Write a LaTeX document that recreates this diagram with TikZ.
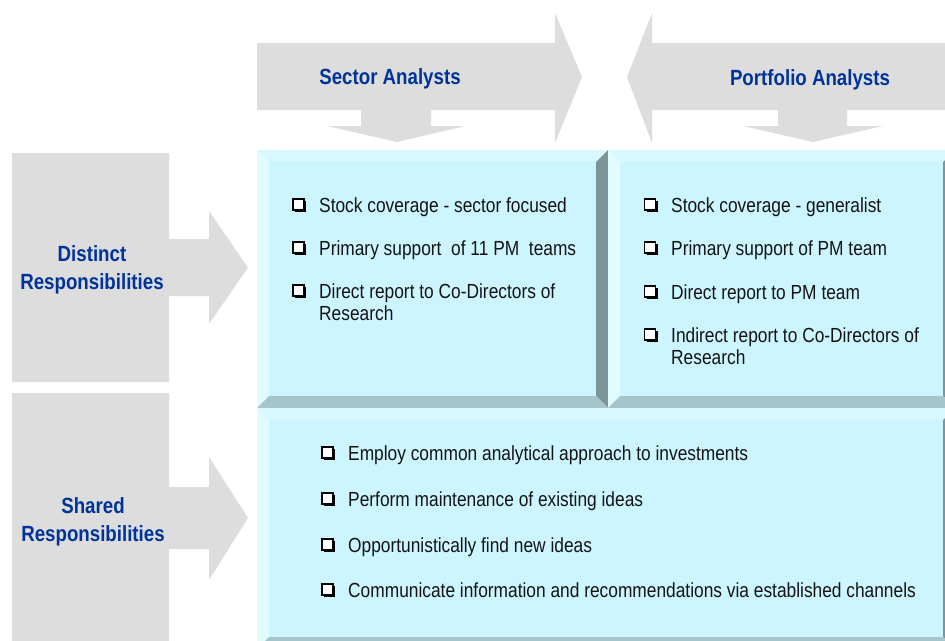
\documentclass[tikz,border=0pt]{standalone}
\usepackage{fontspec}
\setmainfont{Liberation Sans}[FakeStretch=0.85]
\usetikzlibrary{shadows}
\definecolor{arrowgray}{RGB}{221,221,221}
\definecolor{hblue}{RGB}{0,51,153}
\definecolor{txt}{RGB}{20,20,20}
\definecolor{bevface}{RGB}{204,245,255}
\definecolor{bevtop}{RGB}{216,248,255}
\definecolor{bevleft}{RGB}{226,251,255}
\definecolor{bevright}{RGB}{125,148,152}
\definecolor{bevbottom}{RGB}{164,197,203}
\newcommand\drawbevpanel[4]{%
  \fill[bevface] (#1+12,#2+12) rectangle (#3-12,#4-12);
  \fill[bevtop] (#1,#2) -- (#3,#2) -- (#3-12,#2+12) -- (#1+12,#2+12) -- cycle;
  \fill[bevleft] (#1,#2) -- (#1+12,#2+12) -- (#1+12,#4-12) -- (#1,#4) -- cycle;
  \fill[bevright] (#3,#2) -- (#3,#4) -- (#3-12,#4-12) -- (#3-12,#2+12) -- cycle;
  \fill[bevbottom] (#1,#4) -- (#3,#4) -- (#3-12,#4-12) -- (#1+12,#4-12) -- cycle;
}
\begin{document}
\begin{tikzpicture}[x=1pt,y=-1pt,
  bigarrow/.style={fill=arrowgray},
  hd/.style={anchor=base, inner sep=0pt, text=hblue, font=\fontsize{22}{28}\selectfont\bfseries},
  itm/.style={anchor=base west, inner sep=0pt, text=txt, font=\fontsize{20.4}{22}\selectfont},
  cbox/.style={draw=black, fill=white, line width=1.3pt, minimum size=11pt, inner sep=0pt,
    drop shadow={shadow xshift=2pt, shadow yshift=-2pt, opacity=1, fill=black}}]
\clip (0,0) rectangle (945,640);
\fill[white] (0,0) rectangle (945,640);

% top arrows
\fill[bigarrow] (257,43) -- (555,43) -- (555,13) -- (582,77) -- (555,143) -- (555,110)
  -- (431,110) -- (431,126) -- (465,126) -- (397,142) -- (327,126) -- (361,126)
  -- (361,110) -- (257,110) -- cycle;
\fill[bigarrow] (960,43) -- (652,43) -- (652,13) -- (627,77) -- (652,143) -- (652,110)
  -- (778,110) -- (778,126) -- (743,126) -- (813,142) -- (883,126) -- (847,126)
  -- (847,110) -- (960,110) -- cycle;

% left arrows
\fill[bigarrow] (12,153) -- (169,153) -- (169,239) -- (209,239) -- (209,211) -- (248,267.5)
  -- (209,324) -- (209,296) -- (169,296) -- (169,382) -- (12,382) -- cycle;
\fill[bigarrow] (12,393) -- (169,393) -- (169,487) -- (209,487) -- (209,457) -- (248,518)
  -- (209,580) -- (209,549) -- (169,549) -- (169,650) -- (12,650) -- cycle;

% panels
\drawbevpanel{257}{150}{608}{408}
\drawbevpanel{608}{150}{955}{408}
\drawbevpanel{257}{408}{955}{649}

% headings
\node[hd] (sec) at (390,84) {Sector Analysts};
\node[hd] (port) at (810,85) {Portfolio Analysts};
\node[hd] (dis1) at (92,261) {Distinct};
\node[hd] (dis2) at (92,289) {Responsibilities};
\node[hd] (sh1) at (93,513) {Shared};
\node[hd] (sh2) at (93,541) {Responsibilities};

% left list
\node[cbox] (lb1) at (298.5,204.5) {};
\node[itm] (lt1) at (319,212) {Stock coverage - sector focused};
\node[cbox] (lb2) at (298.5,247.5) {};
\node[itm] (lt2) at (319,255) {Primary support~ of 11 PM~ teams};
\node[cbox] (lb3) at (298.5,290.5) {};
\node[itm] (lt3) at (319,298) {Direct report to Co-Directors of};
\node[itm] (lt3b) at (319,320) {Research};

% right list
\node[cbox] (rb1) at (650,204.5) {};
\node[itm] (rt1) at (671,212) {Stock coverage - generalist};
\node[cbox] (rb2) at (650,247.5) {};
\node[itm] (rt2) at (671,255) {Primary support of PM team};
\node[cbox] (rb3) at (650,291.5) {};
\node[itm] (rt3) at (671,299) {Direct report to PM team};
\node[cbox] (rb4) at (650,334.5) {};
\node[itm] (rt4) at (671,342) {Indirect report to Co-Directors of};
\node[itm] (rt4b) at (671,364) {Research};

% bottom list
\node[cbox] (bb1) at (327.5,452.5) {};
\node[itm] (bt1) at (348,460) {Employ common analytical approach to investments};
\node[cbox] (bb2) at (327.5,498.5) {};
\node[itm] (bt2) at (348,506) {Perform maintenance of existing ideas};
\node[cbox] (bb3) at (327.5,544.5) {};
\node[itm] (bt3) at (348,552) {Opportunistically find new ideas};
\node[cbox] (bb4) at (327.5,589.5) {};
\node[itm] (bt4) at (348,597) {Communicate information and recommendations via established channels};
\end{tikzpicture}
\end{document}
